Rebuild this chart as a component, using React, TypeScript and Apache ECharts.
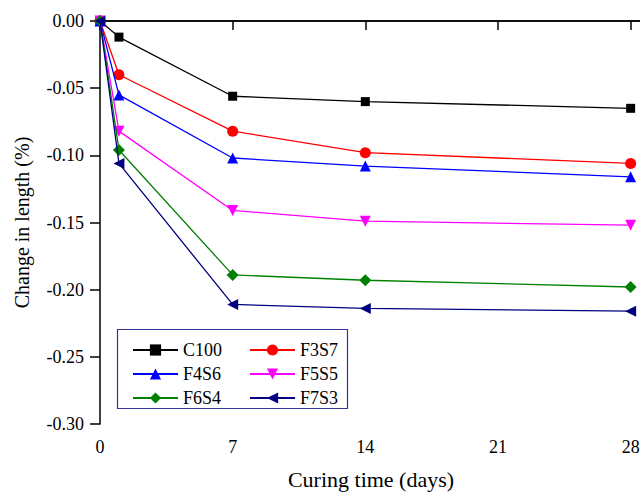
import React, { useEffect, useRef } from "react";
import * as echarts from "echarts";

const days = [0, 1, 7, 14, 28];
const seriesNames = ["C100", "F3S7", "F4S6", "F5S5", "F6S4", "F7S3"];
const c100 = [0, -0.012, -0.056, -0.06, -0.065];
const f3s7 = [0, -0.04, -0.082, -0.098, -0.106];
const f4s6 = [0, -0.055, -0.102, -0.108, -0.116];
const f5s5 = [0, -0.082, -0.141, -0.149, -0.152];
const f6s4 = [0, -0.096, -0.189, -0.193, -0.198];
const f7s3 = [0, -0.106, -0.211, -0.214, -0.216];
const seriesValues = [c100, f3s7, f4s6, f5s5, f6s4, f7s3];
const seriesColors = ["#000000", "#ff0000", "#0000ff", "#ff00ff", "#008000", "#000080"];
const seriesSymbols = ["rect", "circle", "triangle", "triangle", "diamond", "triangle"];
const seriesRotate = [0, 0, 0, 180, 0, 90];
const seriesSymbolSize = [9, 11, 11, 11, 12, 11];

const FONT = "Liberation Serif";

export default function App() {
  const ref = useRef<HTMLDivElement>(null);
  useEffect(() => {
    if (!ref.current) return;
    const chart = echarts.init(ref.current, null, { renderer: "svg" });
    const series = seriesNames.map((name, i) => ({
      name,
      type: "line",
      data: days.map((d, j) => [d, seriesValues[i][j]]),
      symbol: seriesSymbols[i],
      symbolRotate: seriesRotate[i],
      symbolSize: seriesSymbolSize[i],
      color: seriesColors[i],
      lineStyle: { color: seriesColors[i], width: 1.3 },
      itemStyle: { color: seriesColors[i] },
      z: 2 + i,
    }));
    chart.setOption({
      animation: false,
      backgroundColor: "#ffffff",
      textStyle: { fontFamily: FONT },
      grid: {
        left: 100,
        top: 21,
        width: 542,
        height: 403,
        containLabel: false,
        outerBoundsMode: "none",
      },
      xAxis: [
        {
          type: "value",
          min: 0,
          max: 28.6,
          interval: 7,
          name: "Curing time (days)",
          nameLocation: "middle",
          nameGap: 44,
          nameTextStyle: { fontFamily: FONT, fontSize: 22, color: "#000" },
          axisLine: { lineStyle: { color: "#000", width: 1.5 } },
          axisTick: { inside: false, length: 9, lineStyle: { color: "#000", width: 1.5 } },
          axisLabel: {
            fontFamily: FONT,
            fontSize: 18,
            color: "#000",
            margin: 14,
            showMaxLabel: false,
          },
          splitLine: { show: false },
        },
        {
          type: "value",
          position: "top",
          min: 0,
          max: 28.6,
          interval: 7,
          axisLine: { show: true, lineStyle: { color: "#000", width: 1.5 } },
          axisTick: { show: false },
          axisLabel: { show: false },
          splitLine: { show: false },
        },
      ],
      yAxis: {
        type: "value",
        min: -0.3,
        max: 0,
        interval: 0.05,
        name: "Change in length (%)",
        nameLocation: "middle",
        nameGap: 68,
        nameTextStyle: { fontFamily: FONT, fontSize: 20, color: "#000" },
        axisLine: { show: true, lineStyle: { color: "#000", width: 1.5 } },
        axisTick: { show: true, inside: false, length: 10, lineStyle: { color: "#000", width: 1.5 } },
        axisLabel: {
          fontFamily: FONT,
          fontSize: 18,
          color: "#000",
          margin: 16,
          formatter: (v: number) => (Math.abs(v) < 1e-9 ? "0.00" : v.toFixed(2)),
        },
        splitLine: { show: false },
      },
      legend: {
        left: 132,
        top: 341,
        width: 232,
        padding: 0,
        itemWidth: 45,
        itemHeight: 14,
        itemGap: 6,
        textStyle: { fontFamily: FONT, fontSize: 18, color: "#000", width: 60, lineHeight: 18 },
        data: seriesNames,
      },
      graphic: [
        {
          type: "rect",
          shape: { x: 117.5, y: 329.5, width: 230, height: 79 },
          style: { fill: "#ffffff", stroke: "#333399", lineWidth: 1.2 },
          z: 3,
        },
      ],
      series,
    });
    return () => chart.dispose();
  }, []);
  return <div ref={ref} style={{ width: 640, height: 492, position: "absolute", left: 0, top: 0 }} />;
}
